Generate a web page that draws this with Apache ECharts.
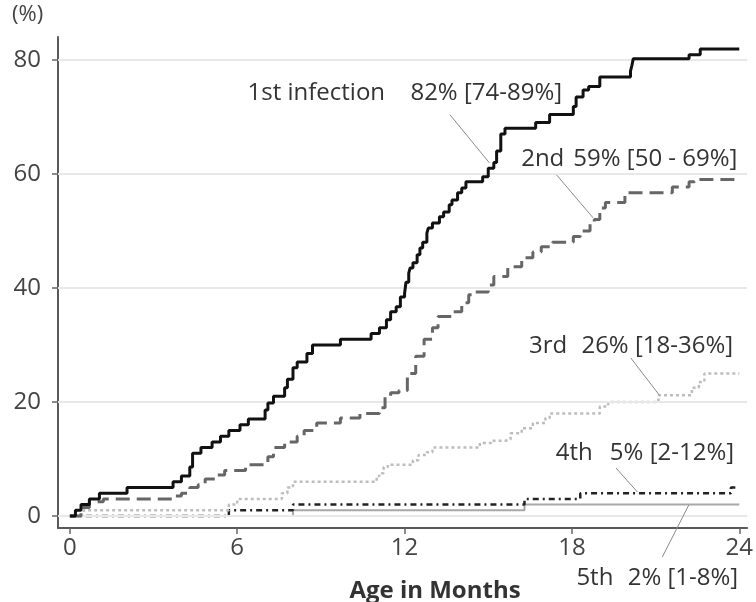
<!DOCTYPE html>
<html><head><meta charset="utf-8">
<script src="https://cdn.jsdelivr.net/npm/echarts@6/dist/echarts.min.js"></script>
<style>html,body{margin:0;padding:0;background:#fff}#c{width:756px;height:602px}</style>
</head><body><div id="c"></div>
<script>
// ---- data (months, cumulative %) ----
const xTicks = [0, 6, 12, 18, 24];
const yTicks = [0, 20, 40, 60, 80];
const seriesNames = ['1st', '2nd', '3rd', '4th', '5th'];
const first = [[0,0],[0.2,1],[0.4,2],[0.7,3],[1.06,4],[2.05,5],[3.7,6],[4.0,7],[4.3,8.6],[4.4,11],[4.7,12],[5.1,13],[5.4,14],[5.7,15],[6.1,16],[6.4,17],[7.0,18.6],[7.1,19.8],[7.3,21],[7.7,22.5],[7.8,24],[8.0,26],[8.15,27],[8.5,28.5],[8.7,30],[9.7,31],[10.8,32],[11.1,33],[11.35,34.4],[11.5,35.8],[11.7,36.7],[11.85,38.4],[12.0,39],[12.05,41],[12.15,42.6],[12.2,43.5],[12.3,44.4],[12.45,45.8],[12.55,47],[12.65,48],[12.8,49.6],[12.85,50.5],[13.0,51.4],[13.25,52.5],[13.4,53.3],[13.6,54.6],[13.7,55.4],[13.9,56.7],[14.05,57.5],[14.2,58.6],[14.8,59.5],[15.0,61],[15.2,62],[15.3,64],[15.45,67],[15.6,68],[16.7,69],[17.2,70.4],[18.05,71.8],[18.15,73.5],[18.4,74.7],[18.6,75.3],[19.0,77],[20.1,78],[20.15,79],[20.2,80.2],[22.2,80.9],[22.6,81.9],[24.0,81.9]];
const second = [[0,0],[0.4,1.5],[0.7,2.5],[1.2,3],[3.7,3.5],[4.0,4],[4.3,5],[4.6,5.5],[4.85,6.5],[5.2,7.2],[5.55,8],[6.3,9],[7.1,10.4],[7.3,12],[7.7,13],[8.15,14],[8.4,15],[8.85,16.3],[9.7,17.2],[10.4,18],[11.1,19],[11.3,21],[11.5,21.6],[11.8,22],[12.1,25],[12.4,28],[12.7,31],[13.0,33],[13.2,35],[13.7,35.8],[14.05,37.4],[14.3,38.8],[14.5,39.3],[15.0,40.5],[15.2,42],[15.7,43.7],[16.2,45.3],[16.6,46.3],[16.9,47.2],[17.3,48],[18.05,49],[18.3,50],[18.65,51.4],[18.8,52],[19.0,54],[19.2,55],[19.9,56.7],[21.6,57.7],[22.2,58.6],[22.4,59],[24,59]];
const third = [[0,0],[0.5,1],[5.7,2],[6.0,3],[7.6,4],[7.8,5],[8.0,6],[11.0,7],[11.1,7.5],[11.25,8.6],[11.4,9],[12.3,9.8],[12.5,10.7],[12.8,11.2],[13.0,12],[14.7,12.8],[15.1,13.2],[15.6,13.4],[15.8,14.5],[16.2,15.4],[16.6,16.3],[17.05,17.2],[17.2,18],[19.0,19.2],[19.3,20],[21.1,21.2],[22.3,22.5],[22.55,23.5],[22.75,25],[24,25]];
const fourth = [[0,0],[5.7,1],[8.0,2],[16.3,3],[18.3,4],[23.7,5],[24,5]];
const fifth = [[0,0],[8.0,1],[16.3,2],[24,2]];
// ---- annotations ----
const annNames = ['1st infection', '2nd', '3rd', '4th', '5th'];
const annStats = ['82% [74-89%]', '59% [50 - 69%]', '26% [18-36%]', '5% [2-12%]', '2% [1-8%]'];
const annNameX = [6.37, 16.18, 16.46, 17.42, 18.16];
const annStatX = [12.21, 18.05, 18.34, 19.36, 20.0];
const annY = [74.2, 62.6, 29.8, 11.05, -10.9];
const leaderFrom = [[13.63,70.35],[17.45,59.82],[20.11,27.72],[19.58,8.42],[21.24,-7.19]];
const leaderTo = [[15.04,61.93],[18.76,52.28],[21.13,21.23],[20.35,4.21],[22.19,1.93]];

const FONT = '"Open Sans", "Noto Sans", sans-serif';
const chart = echarts.init(document.getElementById('c'), null, {renderer: 'canvas'});

function stepSeries(name, data, color, width, type, z) {
  return {name, type: 'line', step: 'end', data, symbol: 'none', z,
    lineStyle: {color, width, type, cap: 'butt'}, emphasis: {disabled: true}};
}

chart.setOption({
  animation: false,
  backgroundColor: '#ffffff',
  grid: {left: 58, right: 0, top: 37, bottom: 74},
  xAxis: {type: 'value', min: -0.425, max: 24.28,
    axisLine: {onZero: false, lineStyle: {color: '#5a5a5a', width: 2}},
    axisTick: {customValues: xTicks, length: 6, lineStyle: {color: '#666', width: 1.5}},
    axisLabel: {customValues: xTicks, fontSize: 24, color: '#444', fontFamily: FONT, margin: 8},
    splitLine: {show: false}},
  yAxis: {type: 'value', min: -2.1, max: 84.0,
    axisLine: {show: true, onZero: false, lineStyle: {color: '#5a5a5a', width: 2}},
    axisTick: {show: true, customValues: yTicks, length: 6, lineStyle: {color: '#666', width: 1.5}},
    axisLabel: {customValues: yTicks, fontSize: 24, color: '#444', fontFamily: FONT, margin: 17},
    splitLine: {show: false}},
  series: [
    {type: 'line', data: [], z: 1, silent: true,
      markLine: {silent: true, symbol: ['none', 'none'], label: {show: false},
        lineStyle: {color: '#e8e8e8', width: 2, type: 'solid'},
        data: yTicks.map(v => ({yAxis: v}))}},
    stepSeries(seriesNames[4], fifth, '#a8a8a8', 2, 'solid', 2),
    stepSeries(seriesNames[3], fourth, '#222', 2.5, [6, 4, 2, 4], 3),
    stepSeries(seriesNames[2], third, '#bdbdbd', 2.5, [3, 3], 4),
    stepSeries(seriesNames[1], second, '#666', 3, [14, 7], 5),
    stepSeries(seriesNames[0], first, '#111', 3, 'solid', 6)
  ]
});

const px = p => chart.convertToPixel({gridIndex: 0}, p);
const g = [];
g.push({type: 'text', left: 12, top: 4, style: {text: '(%)', font: '22px ' + FONT, fill: '#444'}});
g.push({type: 'text', x: 435, y: 591, style: {text: 'Age in Months', font: 'bold 24px ' + FONT, fill: '#333', align: 'center', verticalAlign: 'middle'}});
for (let i = 0; i < annNames.length; i++) {
  const a = px([annNameX[i], annY[i]]);
  const b = px([annStatX[i], annY[i]]);
  g.push({type: 'text', x: a[0], y: a[1], style: {text: annNames[i], font: '24px ' + FONT, fill: '#333', align: 'left', verticalAlign: 'middle'}});
  g.push({type: 'text', x: b[0], y: b[1], style: {text: annStats[i], font: '24px ' + FONT, fill: '#333', align: 'left', verticalAlign: 'middle'}});
  const p1 = px(leaderFrom[i]), p2 = px(leaderTo[i]);
  g.push({type: 'line', shape: {x1: p1[0], y1: p1[1], x2: p2[0], y2: p2[1]}, style: {stroke: '#8a8a8a', lineWidth: 1}, z: 10});
}
chart.setOption({graphic: g});
</script></body></html>
